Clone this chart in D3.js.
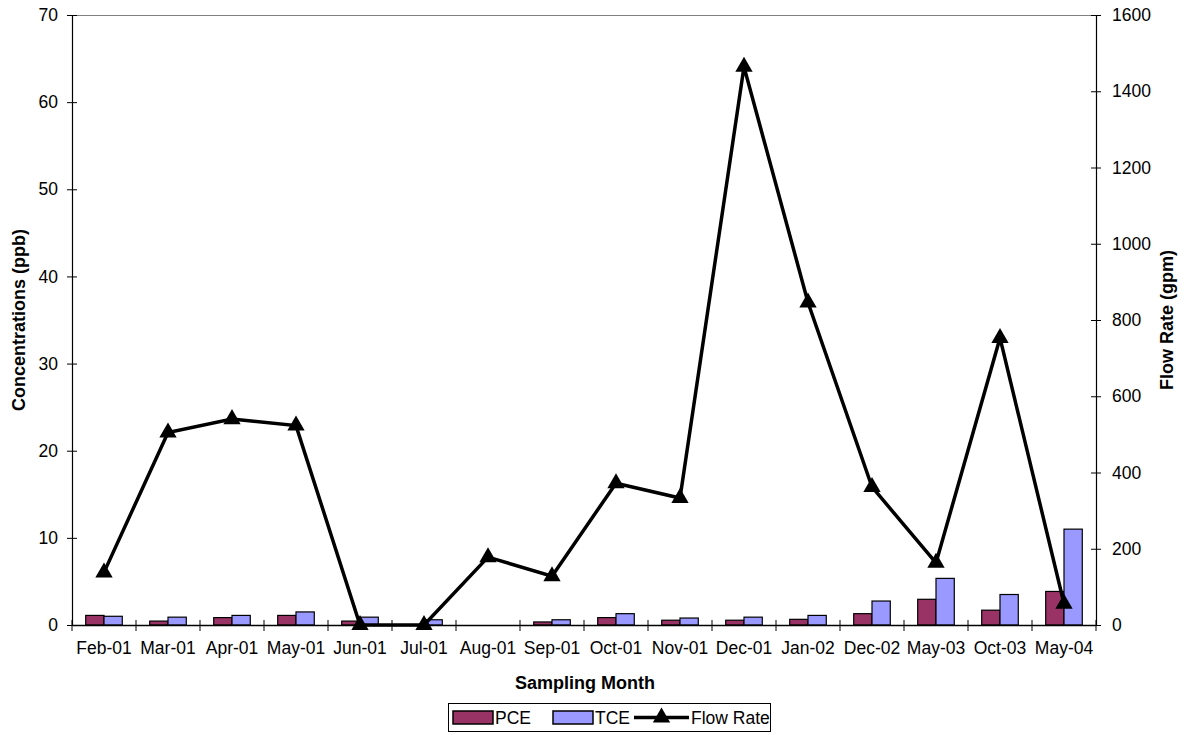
<!DOCTYPE html>
<html>
<head>
<meta charset="utf-8">
<script src="https://cdn.jsdelivr.net/npm/d3@7"></script>
<style>
  html, body { margin: 0; padding: 0; background: #fff; }
  svg { display: block; font-family: "Liberation Sans", Arial, sans-serif; }
</style>
</head>
<body>
<svg id="chart" width="1186" height="735"></svg>
<script>
// Sampling months
const months = ["Feb-01","Mar-01","Apr-01","May-01","Jun-01","Jul-01","Aug-01","Sep-01",
                "Oct-01","Nov-01","Dec-01","Jan-02","Dec-02","May-03","Oct-03","May-04"];
// Concentrations (ppb); null = not detected / no bar
const pce = [1.1, 0.45, 0.85, 1.1, 0.45, null, null, 0.35, 0.85, 0.55, 0.55, 0.65, 1.3, 2.95, 1.7, 3.85];
const tce = [1.0, 0.9, 1.1, 1.5, 0.9, 0.6, null, 0.6, 1.3, 0.8, 0.9, 1.1, 2.75, 5.35, 3.5, 11.0];
// Flow rate (gpm)
const flow = [138, 505, 540, 523, 0, 0, 178, 128, 372, 333, 1464, 846, 362, 163, 753, 56];
// Axis ticks
const leftTicks = [0, 10, 20, 30, 40, 50, 60, 70];
const rightTicks = [0, 200, 400, 600, 800, 1000, 1200, 1400, 1600];

const svg = d3.select("#chart");
const plot = { left: 72, right: 1096, top: 15, bottom: 625 };

const x = d3.scaleBand().domain(months).range([plot.left, plot.right]).paddingInner(0).paddingOuter(0);
const yL = d3.scaleLinear().domain([0, 70]).range([plot.bottom, plot.top]);
const yR = d3.scaleLinear().domain([0, 1600]).range([plot.bottom, plot.top]);

// bar geometry: two bars per category with a 150% gap
const barW = x.bandwidth() / 3.5;
const groupOffset = (x.bandwidth() - 2 * barW) / 2;

// top frame line
svg.append("line")
  .attr("x1", plot.left).attr("x2", plot.right)
  .attr("y1", plot.top + 0.5).attr("y2", plot.top + 0.5)
  .attr("stroke", "#808080").attr("stroke-width", 1);

// bars
const series = [
  { name: "PCE", values: pce, color: "#993366", idx: 0 },
  { name: "TCE", values: tce, color: "#9999FF", idx: 1 }
];
series.forEach(s => {
  svg.append("g").selectAll("rect")
    .data(months.map((m, i) => ({ m, v: s.values[i] })).filter(d => d.v != null))
    .join("rect")
    .attr("x", d => x(d.m) + groupOffset + s.idx * barW)
    .attr("y", d => yL(d.v))
    .attr("width", barW)
    .attr("height", d => yL(0) - yL(d.v))
    .attr("fill", s.color)
    .attr("stroke", "#000")
    .attr("stroke-width", 1.2);
});

// axes
const tickFont = 17.5;
const leftAxis = d3.axisLeft(yL).tickValues(leftTicks).tickSize(0).tickPadding(14);
const gL = svg.append("g").attr("transform", `translate(${plot.left},0)`).call(leftAxis);
gL.select(".domain").attr("stroke", "#000").attr("stroke-width", 1.2);
gL.selectAll(".tick text").attr("font-size", tickFont).attr("fill", "#000")
  .attr("font-family", "Liberation Sans, Arial, sans-serif");
gL.selectAll(".tick").append("line").attr("x1", -5).attr("x2", 5).attr("stroke", "#000");

const rightAxis = d3.axisRight(yR).tickValues(rightTicks).tickFormat(d3.format("d"))
  .tickSize(0).tickPadding(16);
const gR = svg.append("g").attr("transform", `translate(${plot.right},0)`).call(rightAxis);
gR.select(".domain").attr("stroke", "#000").attr("stroke-width", 1.2);
gR.selectAll(".tick text").attr("font-size", tickFont).attr("fill", "#000")
  .attr("font-family", "Liberation Sans, Arial, sans-serif");
gR.selectAll(".tick").append("line").attr("x1", -5).attr("x2", 5).attr("stroke", "#000");

const bottomAxis = d3.axisBottom(x).tickSize(0).tickPadding(17);
const gB = svg.append("g").attr("transform", `translate(0,${plot.bottom})`).call(bottomAxis);
gB.select(".domain").attr("stroke", "#000").attr("stroke-width", 1.5);
gB.selectAll(".tick text").attr("font-size", tickFont).attr("fill", "#000")
  .attr("font-family", "Liberation Sans, Arial, sans-serif");
// category boundary ticks
const bounds = months.map(m => x(m)).concat([plot.right]);
gB.append("g").selectAll("line").data(bounds).join("line")
  .attr("x1", d => d).attr("x2", d => d)
  .attr("y1", -5).attr("y2", 6)
  .attr("stroke", "#000").attr("stroke-width", 1);

// flow rate line
const cx = m => x(m) + x.bandwidth() / 2;
const line = d3.line().x((d, i) => cx(months[i])).y(d => yR(d));
svg.append("path")
  .datum(flow)
  .attr("d", line)
  .attr("fill", "none")
  .attr("stroke", "#000")
  .attr("stroke-width", 3.5)
  .attr("stroke-linejoin", "miter");

const tri = d3.symbol().type(d3.symbolTriangle).size(130);
svg.append("g").selectAll("path")
  .data(flow)
  .join("path")
  .attr("d", tri)
  .attr("transform", (d, i) => `translate(${cx(months[i])},${yR(d)})`)
  .attr("fill", "#000");

// axis titles
const titleFont = 18;
svg.append("text")
  .attr("x", (plot.left + plot.right) / 2 + 1).attr("y", 689)
  .attr("text-anchor", "middle").attr("font-weight", "bold").attr("font-size", titleFont)
  .text("Sampling Month");
svg.append("text")
  .attr("transform", `translate(25,${(plot.top + plot.bottom) / 2}) rotate(-90)`)
  .attr("text-anchor", "middle").attr("font-weight", "bold").attr("font-size", titleFont)
  .text("Concentrations (ppb)");
svg.append("text")
  .attr("transform", `translate(1173,${(plot.top + plot.bottom) / 2}) rotate(-90)`)
  .attr("text-anchor", "middle").attr("font-weight", "bold").attr("font-size", titleFont)
  .text("Flow Rate (gpm)");

// legend
const lg = svg.append("g");
lg.append("rect").attr("x", 448.5).attr("y", 703.5).attr("width", 322).attr("height", 28)
  .attr("fill", "#fff").attr("stroke", "#000").attr("stroke-width", 1);
const legendItems = [
  { type: "bar", color: "#993366", label: "PCE", x: 453 },
  { type: "bar", color: "#9999FF", label: "TCE", x: 553 }
];
legendItems.forEach(it => {
  lg.append("rect").attr("x", it.x).attr("y", 711).attr("width", 40).attr("height", 13)
    .attr("fill", it.color).attr("stroke", "#000").attr("stroke-width", 1.5);
  lg.append("text").attr("x", it.x + 42).attr("y", 724).attr("font-size", tickFont).text(it.label);
});
lg.append("line").attr("x1", 634).attr("x2", 689).attr("y1", 717.5).attr("y2", 717.5)
  .attr("stroke", "#000").attr("stroke-width", 3.5);
lg.append("path").attr("d", tri).attr("transform", "translate(661.5,717.5)").attr("fill", "#000");
lg.append("text").attr("x", 691).attr("y", 724).attr("font-size", tickFont).text("Flow Rate");
</script>
</body>
</html>
